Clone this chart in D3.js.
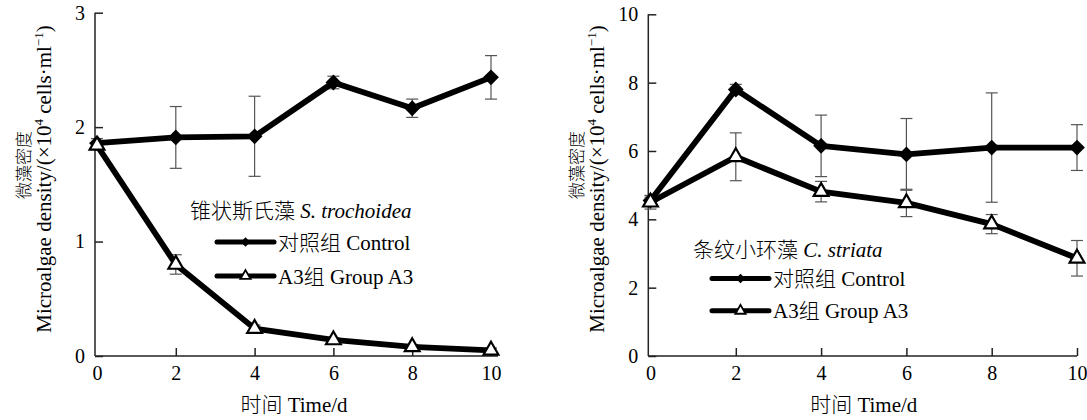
<!DOCTYPE html>
<html>
<head>
<meta charset="utf-8">
<script src="https://cdn.jsdelivr.net/npm/d3@7"></script>
<style>
  body { margin: 0; background: #fff; }
  text { font-family: "Liberation Serif", "Times New Roman", "Noto Sans CJK SC", serif; fill: #000; font-weight: 300; }
</style>
</head>
<body>
<div id="chart"></div>
<script>
// time points (days)
var days = [0, 2, 4, 6, 8, 10];

// S. trochoidea panel
var strControl    = [1.86, 1.91, 1.92, 2.39, 2.165, 2.435];
var strControlErr = [0.04, 0.27, 0.35, 0.055, 0.08, 0.19];
var strA3         = [1.84, 0.80, 0.24, 0.14, 0.08, 0.05];
var strA3Err      = [0.02, 0.085, 0.03, 0.02, 0.02, 0.02];
var strTicks      = [0, 1, 2, 3];

// C. striata panel
var csControl    = [4.55, 7.80, 6.15, 5.90, 6.10, 6.10];
var csControlErr = [0.1, 0.15, 0.9, 1.05, 1.6, 0.67];
var csA3         = [4.50, 5.83, 4.81, 4.48, 3.86, 2.86];
var csA3Err      = [0.2, 0.7, 0.3, 0.4, 0.28, 0.52];
var csTicks      = [0, 2, 4, 6, 8, 10];

var xTicks = [0, 2, 4, 6, 8, 10];

var svg = d3.select("#chart")
  .append("svg")
    .attr("width", 1087)
    .attr("height", 420);

function drawPanel(p) {
  var g = svg.append("g");

  var x = d3.scaleLinear().domain([0, 10]).range([p.x0, p.x10]);
  var y = d3.scaleLinear().domain([0, p.yMax]).range([356, p.yTop]);

  // X axis
  var xa = g.append("g")
    .attr("transform", "translate(0,356)")
    .call(d3.axisBottom(x).tickValues(xTicks).tickFormat(d3.format("d"))
      .tickSize(-8).tickSizeOuter(0).tickPadding(10));
  xa.select(".domain").remove();
  xa.selectAll(".tick").filter(function(d) { return d === 0; }).select("line").remove();

  // Y axis
  var ya = g.append("g")
    .attr("transform", "translate(" + p.axisX + ",0)")
    .call(d3.axisLeft(y).tickValues(p.yTicks).tickFormat(d3.format("d"))
      .tickSize(-8).tickSizeOuter(0).tickPadding(10));
  ya.select(".domain").remove();

  g.selectAll(".tick line").attr("stroke", "#222").attr("stroke-width", 1.5);
  g.selectAll(".tick text").style("font-size", "20px").attr("fill", "#000");

  // axis lines
  g.append("line")
    .attr("x1", p.axisX).attr("x2", p.axisEnd)
    .attr("y1", 356).attr("y2", 356)
    .attr("stroke", "#222").attr("stroke-width", 1.5);
  g.append("line")
    .attr("x1", p.axisX).attr("x2", p.axisX)
    .attr("y1", 356).attr("y2", p.yTop)
    .attr("stroke", "#222").attr("stroke-width", 1.5);

  var series = [
    {vals: p.control, errs: p.controlErr},
    {vals: p.a3, errs: p.a3Err}
  ];

  // error bars
  series.forEach(function(s) {
    var eb = g.append("g").attr("stroke", "#555").attr("stroke-width", 1.2);
    days.forEach(function(d, i) {
      var cx = x(d), hi = y(s.vals[i] + s.errs[i]), lo = y(s.vals[i] - s.errs[i]);
      eb.append("line").attr("x1", cx).attr("x2", cx).attr("y1", hi).attr("y2", lo);
      eb.append("line").attr("x1", cx - 6).attr("x2", cx + 6).attr("y1", hi).attr("y2", hi);
      eb.append("line").attr("x1", cx - 6).attr("x2", cx + 6).attr("y1", lo).attr("y2", lo);
    });
  });

  var line = d3.line()
    .x(function(d, i) { return x(days[i]); })
    .y(function(d) { return y(d); });

  // lines
  series.slice().reverse().forEach(function(s) {
    g.append("path")
      .datum(s.vals)
      .attr("d", line)
      .attr("fill", "none")
      .attr("stroke", "#000")
      .attr("stroke-width", 5.8)
      .attr("stroke-linejoin", "round");
  });

  // markers
  var diamond = d3.symbol().type(d3.symbolSquare).size(125);
  var tri = d3.symbol().type(d3.symbolTriangle).size(95);
  g.selectAll("mydiamond")
    .data(p.control)
    .enter()
    .append("path")
      .attr("d", diamond)
      .attr("transform", function(d, i) { return "translate(" + x(days[i]) + "," + y(d) + ")rotate(45)"; })
      .attr("fill", "#000");
  g.selectAll("mytri")
    .data(p.a3)
    .enter()
    .append("path")
      .attr("d", tri)
      .attr("transform", function(d, i) { return "translate(" + x(days[i]) + "," + y(d) + ")"; })
      .attr("fill", "#fff")
      .attr("stroke", "#000")
      .attr("stroke-width", 2.2);

  // x axis title
  g.append("text")
    .attr("x", (p.x0 + p.x10) / 2)
    .attr("y", 412)
    .attr("text-anchor", "middle")
    .style("font-size", "21px")
    .text("时间 Time/d");

  // y axis title (two lines)
  g.append("text")
    .attr("transform", "translate(" + (p.axisX - 65) + ",165)rotate(-90)")
    .attr("text-anchor", "middle")
    .style("font-size", "17px")
    .text("微藻密度");
  var yt = g.append("text")
    .attr("transform", "translate(" + (p.axisX - 44) + ",179)rotate(-90)")
    .attr("text-anchor", "middle")
    .style("font-size", "21px");
  yt.append("tspan").text("Microalgae density/(×10");
  yt.append("tspan").attr("dy", -8).style("font-size", "13px").text("4");
  yt.append("tspan").attr("dy", 8).text(" cells·ml");
  yt.append("tspan").attr("dy", -8).style("font-size", "13px").text("−1");
  yt.append("tspan").attr("dy", 8).text(")");

  // legend
  var lg = g.append("g");
  var title = lg.append("text")
    .attr("x", p.legX)
    .attr("y", p.legY)
    .style("font-size", "21px");
  title.append("tspan").text(p.name + " ");
  title.append("tspan").style("font-style", "italic").text(p.latin);

  var items = [
    {label: "对照组 Control", sym: "diamond"},
    {label: "A3组 Group A3", sym: "triangle"}
  ];
  items.forEach(function(it, i) {
    var ly = p.legLineY + i * p.legStep;
    lg.append("line")
      .attr("x1", p.legLineX).attr("x2", p.legLineX + 57)
      .attr("y1", ly).attr("y2", ly)
      .attr("stroke", "#000").attr("stroke-width", 5)
      .attr("stroke-linecap", "round");
    if (it.sym === "diamond") {
      lg.append("path")
        .attr("d", d3.symbol().type(d3.symbolSquare).size(45))
        .attr("transform", "translate(" + (p.legLineX + 28.5) + "," + ly + ")rotate(45)")
        .attr("fill", "#000");
    } else {
      lg.append("path")
        .attr("d", d3.symbol().type(d3.symbolTriangle).size(45))
        .attr("transform", "translate(" + (p.legLineX + 28.5) + "," + ly + ")")
        .attr("fill", "#fff").attr("stroke", "#000").attr("stroke-width", 1.8);
    }
    lg.append("text")
      .attr("x", p.legLineX + 61)
      .attr("y", ly + 7.5)
      .style("font-size", "21px")
      .text(it.label);
  });
}

drawPanel({
  axisX: 95, x0: 97, x10: 491, axisEnd: 498, yTop: 12.7, yMax: 3, yTicks: strTicks,
  control: strControl, controlErr: strControlErr, a3: strA3, a3Err: strA3Err,
  name: "锥状斯氏藻", latin: "S. trochoidea",
  legX: 190, legY: 218, legLineX: 217, legLineY: 242, legStep: 34
});

drawPanel({
  axisX: 648.3, x0: 650.5, x10: 1077, axisEnd: 1077, yTop: 14.3, yMax: 10, yTicks: csTicks,
  control: csControl, controlErr: csControlErr, a3: csA3, a3Err: csA3Err,
  name: "条纹小环藻", latin: "C. striata",
  legX: 693, legY: 257, legLineX: 712, legLineY: 278.5, legStep: 32.3
});
</script>
</body>
</html>
